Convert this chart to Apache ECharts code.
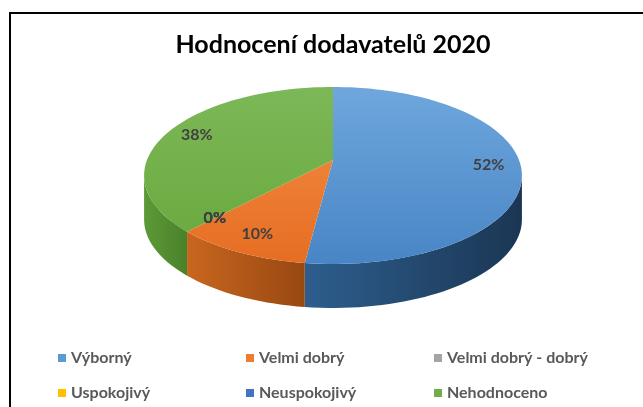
<!DOCTYPE html>
<html>
<head>
<meta charset="utf-8">
<script src="https://cdn.jsdelivr.net/npm/echarts@6/dist/echarts.min.js"></script>
<style>
  html, body { margin: 0; padding: 0; background: #fff; }
  #chart { width: 643px; height: 407px; }
</style>
</head>
<body>
<div id="chart"></div>
<script>
var categories = ['Výborný', 'Velmi dobrý', 'Velmi dobrý - dobrý', 'Uspokojivý', 'Neuspokojivý', 'Nehodnoceno'];
var shares = [52, 10, 0, 0, 0, 38];
var colors = ['#5B9BD5', '#ED7D31', '#A5A5A5', '#FFC000', '#4472C4', '#70AD47'];

// shading for the fake 3D look (top face, side wall)
var topShade = [['#6fa7dd', '#4885c5'], ['#f39048', '#e66d22'], ['#b5b5b5', '#999'],
                ['#ffc926', '#f0b400'], ['#5582cc', '#3c66b5'], ['#7db858', '#67a83b']];
var sideShade = [['#2d5e8e', '#1b3653'], ['#c8661f', '#984812'], ['#777', '#555'],
                 ['#c09000', '#906c00'], ['#2f5290', '#213a66'], ['#5c9a37', '#4a812a']];

var dom = document.getElementById('chart');
var myChart = echarts.init(dom, null, {renderer: 'canvas'});

var total = shares.reduce(function (a, b) { return a + b; }, 0);
var starts = [];
var acc = 0;
for (var i = 0; i < shares.length; i++) {
    starts.push(acc / total * 360);
    acc += shares[i];
}

// disc seen from above with a bit of perspective
var CX = 333, CY = 160, SX = 186, SY = 85.8, K = 0.175, DEPTH = 44;
function proj(deg, r, dy) {
    var a = deg * Math.PI / 180;
    var u = Math.sin(a) * r, v = -Math.cos(a) * r;
    var d = 1 - K * v;
    return [CX + SX * u / d, CY + SY * v / d + (dy || 0)];
}
function arc(a0, a1, dy) {
    var pts = [];
    var n = Math.max(2, Math.ceil(Math.abs(a1 - a0) / 2));
    for (var j = 0; j <= n; j++) {
        pts.push(proj(a0 + (a1 - a0) * j / n, 1, dy));
    }
    return pts;
}
var EDGE_R = Math.acos(-K) * 180 / Math.PI;
var EDGE_L = 360 - EDGE_R;

function renderSide(params, api) {
    var i = params.dataIndex;
    var v = api.value(0);
    var a0 = starts[i], a1 = a0 + v / total * 360;
    var lo = Math.max(a0, EDGE_R), hi = Math.min(a1, EDGE_L);
    if (v <= 0 || hi <= lo) return null;
    var pts = arc(lo, hi, 0).concat(arc(hi, lo, DEPTH));
    return {
        type: 'polygon',
        shape: {points: pts},
        style: {
            fill: new echarts.graphic.LinearGradient(0, 0, 1, 0, [
                {offset: 0, color: sideShade[i][0]},
                {offset: 1, color: sideShade[i][1]}
            ])
        }
    };
}

function renderTop(params, api) {
    var i = params.dataIndex;
    var v = api.value(0);
    var a0 = starts[i], a1 = a0 + v / total * 360;
    var children = [];
    if (v > 0) {
        children.push({
            type: 'polygon',
            shape: {points: [[CX, CY]].concat(arc(a0, a1, 0))},
            style: {
                fill: new echarts.graphic.LinearGradient(0, 87, 0, 265, [
                    {offset: 0, color: topShade[i][0]},
                    {offset: 1, color: topShade[i][1]}
                ], true)
            }
        });
    }
    var p = proj((a0 + a1) / 2, 0.83, 0);
    children.push({
        type: 'text',
        x: p[0],
        y: p[1],
        z2: 50,
        style: {
            text: Math.round(v / total * 100) + '%',
            align: 'center',
            verticalAlign: 'middle',
            fill: '#404040',
            font: 'bold 16px Lato'
        }
    });
    return {type: 'group', children: children};
}

var colX = [58, 246, 434];

var option = {
    color: colors,
    animation: false,
    graphic: [
        {
            type: 'rect',
            shape: {x: 10, y: 13, width: 700, height: 500},
            style: {fill: 'none', stroke: '#000', lineWidth: 2},
            silent: true
        },
        {
            type: 'text',
            x: 333,
            y: 45,
            style: {
                text: 'Hodnocení dodavatelů 2020',
                align: 'center',
                verticalAlign: 'middle',
                fill: '#000',
                font: 'bold 25px Lato'
            }
        }
    ],
    legend: [0, 1, 2].map(function (c) {
        return {
            data: [categories[c], categories[c + 3]],
            orient: 'vertical',
            left: colX[c],
            top: 349,
            padding: 0,
            itemWidth: 8,
            itemHeight: 8,
            itemGap: 17,
            icon: 'rect',
            selectedMode: false,
            textStyle: {
                fontFamily: 'Lato',
                fontWeight: 'bold',
                fontSize: 16,
                lineHeight: 18,
                color: '#595959'
            }
        };
    }),
    series: [
        {
            // only feeds the legend
            type: 'pie',
            radius: [0, 0],
            center: [-50, -50],
            silent: true,
            label: {show: false},
            labelLine: {show: false},
            data: categories.map(function (c, i) {
                return {name: c, value: shares[i]};
            })
        },
        {
            type: 'custom',
            coordinateSystem: 'none',
            renderItem: renderSide,
            data: shares,
            z: 2
        },
        {
            type: 'custom',
            coordinateSystem: 'none',
            renderItem: renderTop,
            data: shares,
            z: 3
        }
    ]
};

if (option && typeof option === 'object') {
    myChart.setOption(option);
}
</script>
</body>
</html>
